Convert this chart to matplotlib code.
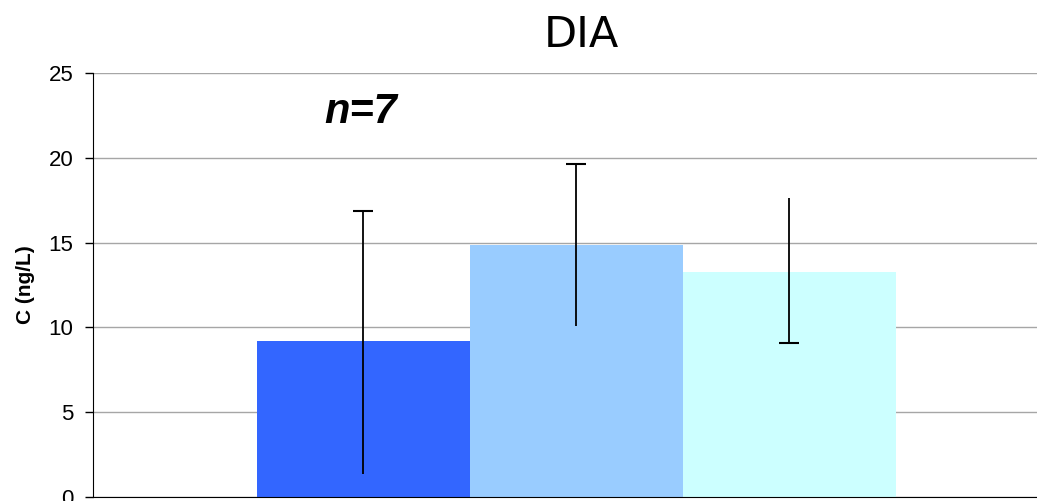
import matplotlib.pyplot as plt

# bar values
means = [9.2, 14.85, 13.25]
err_low = [1.35, 10.1, 9.1]
err_high = [16.85, 19.65, 17.65]
cap_top = [True, True, False]
cap_bottom = [False, False, True]
colors = ["#3366FF", "#99CCFF", "#CCFFFF"]
y_ticks = [0, 5, 10, 15, 20, 25]

fig = plt.figure(figsize=(10.37, 5.01), dpi=100)
ax = fig.add_axes([93 / 1037, 4 / 501, (1037 - 93) / 1037, 424 / 501])

x = [-1, 0, 1]
ax.bar(x, means, width=1.0, color=colors, zorder=2)

# error bars (some have only one cap, like the original)
ax.vlines(x, err_low, err_high, color="black", linewidth=1.3, zorder=3)
for xi, lo, hi, ct, cb in zip(x, err_low, err_high, cap_top, cap_bottom):
    if ct:
        ax.plot([xi], [hi], marker="_", markersize=14, mew=1.5, color="black", zorder=3)
    if cb:
        ax.plot([xi], [lo], marker="_", markersize=14, mew=1.5, color="black", zorder=3)

ax.set_xlim(-2.268, 2.164)
ax.set_ylim(0, 25)
ax.set_yticks(y_ticks)
ax.set_xticks([])
ax.yaxis.grid(True, color="#a6a6a6", linewidth=1.0, zorder=0)
ax.set_axisbelow(True)

for s in ["top", "right"]:
    ax.spines[s].set_visible(False)
ax.spines["left"].set_color("black")
ax.spines["bottom"].set_color("black")
ax.tick_params(axis="y", direction="out", length=6, width=1, labelsize=16, pad=8)
for lab in ax.get_yticklabels():
    lab.set_fontfamily("Liberation Sans")

ax.set_ylabel("C (ng/L)", fontsize=15, fontweight="bold", family="Liberation Sans")
ax.yaxis.set_label_coords(-0.071, 0.5)
ax.yaxis.label.set_va("center")

fig.text(581 / 1037, 1 - 35 / 501, "DIA", fontsize=31, ha="center", va="center", family="DejaVu Sans")
ax.text(-1.18, 22.7, "n=7", fontsize=30, fontweight="bold", fontstyle="italic",
        family="Liberation Sans", ha="left", va="center")

fig.savefig("out.png", dpi=100)
